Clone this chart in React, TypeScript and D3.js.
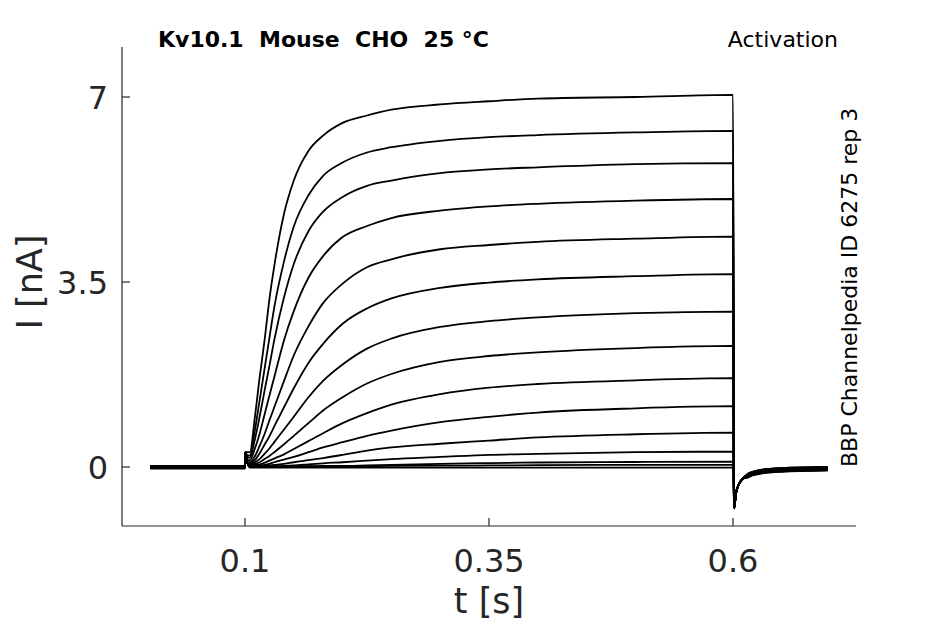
import React from 'react';
import * as d3 from 'd3';

// sweep times after the step onset (s)
const stepTimes = [0.105, 0.11, 0.115, 0.12, 0.125, 0.13, 0.14, 0.15, 0.165, 0.18, 0.2, 0.225, 0.25, 0.3, 0.35, 0.4, 0.5, 0.6];

// current (nA) of each sweep at stepTimes, largest first
const sweeps = [
  [0.28, 0.92, 1.69, 2.39, 3.17, 3.8, 4.79, 5.42, 5.98, 6.27, 6.51, 6.65, 6.76, 6.86, 6.92, 6.97, 7.0, 7.04],
  [0.22, 0.68, 1.26, 1.85, 2.44, 3.02, 3.89, 4.55, 5.14, 5.51, 5.76, 5.95, 6.05, 6.17, 6.24, 6.28, 6.33, 6.36],
  [0.18, 0.51, 0.95, 1.44, 1.91, 2.4, 3.21, 3.84, 4.46, 4.83, 5.11, 5.32, 5.42, 5.56, 5.63, 5.67, 5.73, 5.75],
  [0.13, 0.34, 0.63, 0.99, 1.35, 1.7, 2.4, 2.95, 3.58, 3.99, 4.35, 4.56, 4.71, 4.85, 4.93, 4.98, 5.04, 5.07],
  [0.09, 0.2, 0.4, 0.62, 0.88, 1.13, 1.63, 2.11, 2.66, 3.1, 3.47, 3.78, 3.93, 4.12, 4.2, 4.26, 4.32, 4.36],
  [0.07, 0.13, 0.26, 0.42, 0.58, 0.77, 1.13, 1.49, 1.97, 2.33, 2.71, 3.0, 3.19, 3.39, 3.49, 3.55, 3.61, 3.65],
  [0.05, 0.09, 0.15, 0.25, 0.35, 0.47, 0.71, 0.95, 1.32, 1.63, 1.94, 2.24, 2.43, 2.65, 2.76, 2.83, 2.91, 2.94],
  [0.03, 0.06, 0.09, 0.15, 0.21, 0.28, 0.43, 0.59, 0.83, 1.07, 1.32, 1.58, 1.76, 1.99, 2.1, 2.17, 2.25, 2.29],
  [0.02, 0.04, 0.05, 0.08, 0.12, 0.16, 0.24, 0.34, 0.49, 0.64, 0.83, 1.02, 1.18, 1.38, 1.5, 1.57, 1.64, 1.68],
  [0.01, 0.02, 0.03, 0.04, 0.06, 0.09, 0.14, 0.19, 0.28, 0.37, 0.47, 0.59, 0.69, 0.85, 0.95, 1.03, 1.11, 1.15],
  [0.01, 0.01, 0.02, 0.02, 0.03, 0.04, 0.06, 0.09, 0.13, 0.17, 0.23, 0.31, 0.37, 0.44, 0.5, 0.56, 0.62, 0.65],
  [0.0, 0.01, 0.01, 0.01, 0.01, 0.015, 0.02, 0.03, 0.05, 0.07, 0.09, 0.12, 0.15, 0.19, 0.23, 0.25, 0.28, 0.29],
  [0.0, 0.0, 0.0, 0.0, 0.01, 0.01, 0.01, 0.01, 0.015, 0.02, 0.02, 0.03, 0.04, 0.06, 0.075, 0.085, 0.095, 0.1],
  [0.0, 0.0, 0.0, 0.0, 0.0, 0.0, 0.0, 0.01, 0.01, 0.01, 0.01, 0.015, 0.02, 0.025, 0.03, 0.035, 0.04, 0.04],
  [-0.01, -0.01, -0.01, -0.01, -0.01, -0.01, -0.01, -0.01, -0.01, -0.01, -0.01, -0.01, -0.01, -0.01, -0.01, -0.01, -0.01, -0.01],
];

// holding level before the step, per sweep
const baselines = [0.01, 0.0, -0.01, 0.02, -0.02, 0.0, 0.01, -0.01, 0.02, -0.03, 0.0, 0.01, -0.02, 0.0, -0.01];

// capacitive blip at step onset
const onsetTimes = [0.1004, 0.1025];
const onsetValues = [0.28, 0.08];

// tail current after the step back
const tailTimes = [0.6012, 0.603, 0.606, 0.61, 0.615, 0.62, 0.63, 0.65, 0.697];
const tailValues = [-0.78, -0.5, -0.33, -0.22, -0.15, -0.11, -0.07, -0.04, -0.02];
const tailOffsets = [-0.05, -0.04, -0.04, -0.03, -0.03, -0.02, -0.02, -0.01, -0.01, 0.0, 0.0, 0.01, 0.01, 0.02, 0.02];

const sweepStart = 0.003;
const xTicks = [0.1, 0.35, 0.6];
const yTicks = [0, 3.5, 7];

const W = 945;
const H = 624;
const axisColor = '#262626';
const font = '"DejaVu Sans", Verdana, sans-serif';

const x = d3.scaleLinear().domain([-0.026, 0.726]).range([122, 856]);
const y = d3.scaleLinear().domain([-1.116, 7.946]).range([526, 47]);

const line = d3.line<[number, number]>()
  .x(d => x(d[0]))
  .y(d => y(d[1]))
  .curve(d3.curveMonotoneX);

const App: React.FC = () => {
  const paths = sweeps.map((vals, k) => {
    const pts: [number, number][] = [];
    pts.push([sweepStart, baselines[k]]);
    pts.push([0.1, baselines[k]]);
    onsetTimes.forEach((t, i) => pts.push([t, Math.max(onsetValues[i], vals[0])]));
    stepTimes.forEach((t, i) => pts.push([t, vals[i]]));
    tailTimes.forEach((t, i) => pts.push([t, tailValues[i] + (i > 3 ? tailOffsets[k] : 0)]));
    return line(pts) || '';
  });

  return (
    <div style={{ position: 'absolute', left: 0, top: 0 }}>
      <svg width={W} height={H} style={{ display: 'block', background: '#fff' }}>
        {/* traces */}
        <g fill="none" stroke="#000" strokeWidth={1.8} strokeLinejoin="round">
          {paths.map((d, i) => <path key={i} d={d} />)}
        </g>

        {/* axes */}
        <g stroke={axisColor} strokeWidth={1.2} fill="none">
          <line x1={122} x2={122} y1={y.range()[1]} y2={y.range()[0]} />
          <line x1={x.range()[0]} x2={x.range()[1]} y1={526} y2={526} />
          {xTicks.map(t => (
            <line key={'xt' + t} x1={x(t)} x2={x(t)} y1={526} y2={518} />
          ))}
          {yTicks.map(t => (
            <line key={'yt' + t} x1={122} x2={130} y1={y(t)} y2={y(t)} />
          ))}
        </g>

        <g fill={axisColor} fontFamily={font} fontSize={32}>
          {xTicks.map(t => (
            <text key={'xl' + t} x={x(t)} y={572} textAnchor="middle">{String(t)}</text>
          ))}
          {yTicks.map(t => (
            <text key={'yl' + t} x={108} y={y(t)} dy="0.36em" textAnchor="end">{String(t)}</text>
          ))}
        </g>

        <text x={489} y={613} textAnchor="middle" fontFamily={font} fontSize={35} fill={axisColor}>t [s]</text>
        <text transform="translate(42,282) rotate(-90)" textAnchor="middle" fontFamily={font} fontSize={35} fill={axisColor}>I [nA]</text>

        <text x={158} y={47} fontFamily={font} fontSize={22} fontWeight="bold" fill="#000" style={{ whiteSpace: 'pre' }}>Kv10.1  Mouse  CHO  25 °C</text>
        <text x={838} y={47} textAnchor="end" fontFamily={font} fontSize={22} fill="#000">Activation</text>
        <text transform="translate(857,467) rotate(-90)" fontFamily={font} fontSize={22} fill="#000">BBP Channelpedia ID 6275 rep 3</text>
      </svg>
    </div>
  );
};

export default App;
